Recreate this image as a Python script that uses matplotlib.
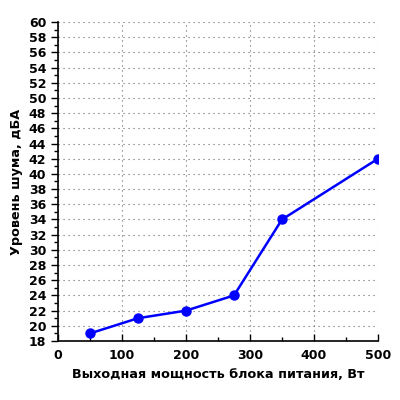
import matplotlib

matplotlib.use("Agg")
import matplotlib.pyplot as plt
from matplotlib.ticker import MultipleLocator

power_w = [50, 125, 200, 275, 350, 500]
noise_dba = [19, 21, 22, 24, 34, 42]

fig = plt.figure(figsize=(4, 4), dpi=100)
ax = fig.add_axes([0.145, 0.1475, 0.80, 0.7975])

ax.plot(power_w, noise_dba, color="#0000ff", linewidth=1.8,
        marker="o", markersize=6.5, zorder=3)

ax.set_xlim(0, 500)
ax.set_ylim(18, 60)
ax.xaxis.set_major_locator(MultipleLocator(100))
ax.xaxis.set_minor_locator(MultipleLocator(50))
ax.yaxis.set_major_locator(MultipleLocator(2))
ax.yaxis.set_minor_locator(MultipleLocator(1))

ax.grid(True, which="major", color="0.4", linestyle=(0, (1, 3.5)), linewidth=0.8)

for s in ("top", "right"):
    ax.spines[s].set_visible(False)
for s in ("left", "bottom"):
    ax.spines[s].set_linewidth(1.2)

ax.tick_params(axis="x", which="both", direction="in", width=1, labelsize=9)
ax.tick_params(axis="x", which="major", length=5, pad=6)
ax.tick_params(axis="x", which="minor", length=3)
ax.tick_params(axis="y", which="both", direction="out", width=1, labelsize=9)
ax.tick_params(axis="y", which="major", length=5)
ax.tick_params(axis="y", which="minor", length=3)
for lbl in ax.get_xticklabels() + ax.get_yticklabels():
    lbl.set_fontweight("bold")

ax.set_xlabel("Выходная мощность блока питания, Вт", fontsize=9.2, fontweight="bold")
ax.set_ylabel("Уровень шума, дБА", fontsize=9.2, fontweight="bold")

fig.savefig("out.png", dpi=100)
